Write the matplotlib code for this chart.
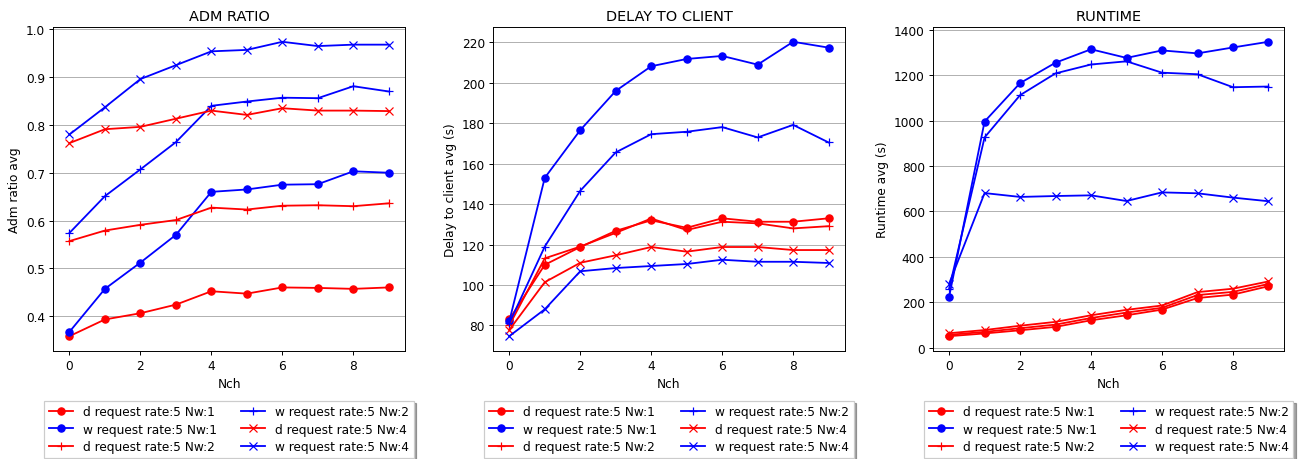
import matplotlib
matplotlib.use('Agg')
import matplotlib.pyplot as plt
import numpy as np

nch = list(range(10))

labels = ['d request rate:5 Nw:1', 'w request rate:5 Nw:1',
          'd request rate:5 Nw:2', 'w request rate:5 Nw:2',
          'd request rate:5 Nw:4', 'w request rate:5 Nw:4']

# admission ratio per series
adm_d1 = [0.358, 0.393, 0.406, 0.424, 0.452, 0.447, 0.460, 0.459, 0.457, 0.460]
adm_w1 = [0.367, 0.457, 0.512, 0.570, 0.660, 0.665, 0.675, 0.676, 0.703, 0.700]
adm_d2 = [0.557, 0.579, 0.591, 0.601, 0.627, 0.623, 0.631, 0.632, 0.630, 0.636]
adm_w2 = [0.574, 0.651, 0.707, 0.764, 0.840, 0.849, 0.857, 0.856, 0.881, 0.870]
adm_d4 = [0.762, 0.791, 0.796, 0.813, 0.830, 0.821, 0.835, 0.830, 0.830, 0.829]
adm_w4 = [0.780, 0.837, 0.896, 0.925, 0.954, 0.957, 0.974, 0.965, 0.968, 0.968]

# delay to client (s)
dly_d1 = [83, 110, 118.8, 126.8, 132, 128.3, 133, 131.3, 131.3, 133]
dly_w1 = [82, 153, 176.6, 196, 208.2, 211.8, 213.3, 209, 220.3, 217.4]
dly_d2 = [80, 113.2, 119, 125.8, 132.9, 127.2, 131.3, 130.5, 128, 129.1]
dly_w2 = [81, 119, 146.6, 165.6, 174.6, 175.8, 178.1, 173, 179.2, 170.5]
dly_d4 = [77.8, 101.4, 111, 114.7, 118.8, 116.5, 118.8, 118.8, 117.3, 117.3]
dly_w4 = [74.7, 88, 106.8, 108.4, 109.4, 110.4, 112.5, 111.5, 111.5, 110.9]

# runtime (s)
run_d1 = [51, 63, 77, 92, 121, 143, 168, 219, 234, 271]
run_w1 = [224, 996, 1165, 1255, 1314, 1276, 1309, 1296, 1322, 1347]
run_d2 = [57, 70, 86, 102, 131, 155, 176, 232, 246, 281]
run_w2 = [260, 926, 1112, 1208, 1247, 1261, 1211, 1204, 1147, 1150]
run_d4 = [64, 78, 97, 114, 143, 167, 186, 245, 260, 292]
run_w4 = [282, 681, 664, 668, 671, 646, 684, 680, 661, 645]

styles = [('r', 'o'), ('b', 'o'), ('r', '+'), ('b', '+'), ('r', 'x'), ('b', 'x')]

panels = [
    ('ADM RATIO', 'Adm ratio avg', [adm_d1, adm_w1, adm_d2, adm_w2, adm_d4, adm_w4]),
    ('DELAY TO CLIENT', 'Delay to client avg (s)', [dly_d1, dly_w1, dly_d2, dly_w2, dly_d4, dly_w4]),
    ('RUNTIME', 'Runtime avg (s)', [run_d1, run_w1, run_d2, run_w2, run_d4, run_w4]),
]

fig, axes = plt.subplots(1, 3, figsize=(15.0, 5.2914), dpi=1304 / 15.0)
fig.subplots_adjust(left=0.041, right=0.985, top=0.939, bottom=0.235, wspace=0.252)

for ax, (title, ylabel, series) in zip(axes, panels):
    for ys, (c, m), lab in zip(series, styles, labels):
        ax.plot(nch, ys, color=c, marker=m, label=lab)
    ax.set_title(title)
    ax.set_xlabel('Nch')
    ax.set_ylabel(ylabel)
    ax.grid(axis='y')
    ax.legend(loc='upper center', bbox_to_anchor=(0.5, -0.135), ncol=2,
              shadow=True, fancybox=False, labelspacing=0.35)

fig.savefig('out.png')
